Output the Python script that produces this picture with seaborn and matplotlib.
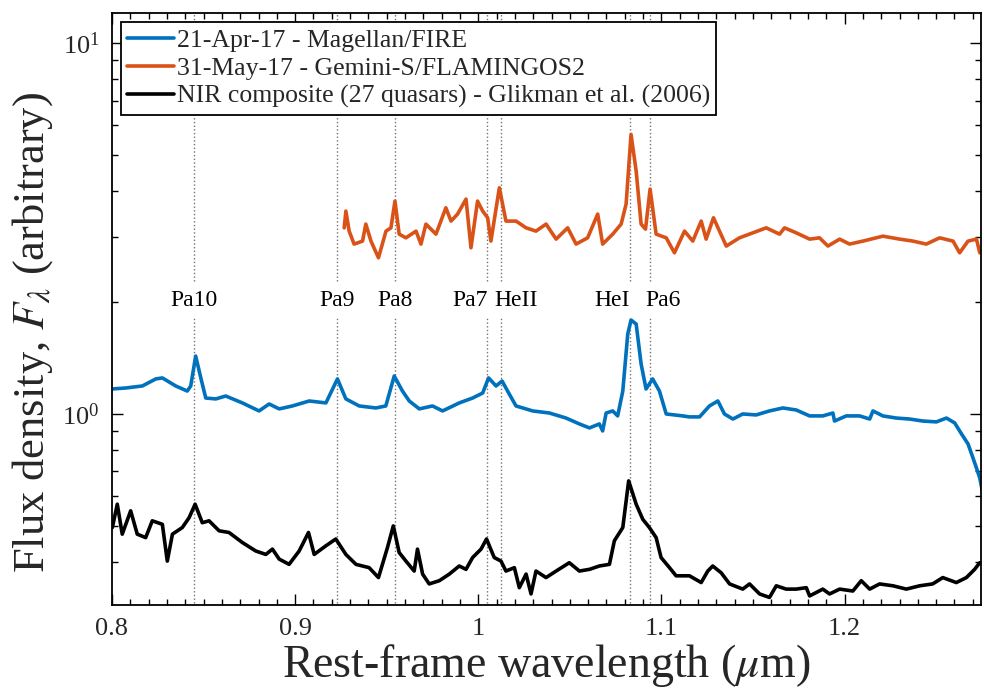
import numpy as np
import pandas as pd
import matplotlib
matplotlib.use('Agg')
import matplotlib.pyplot as plt
import seaborn as sns
from matplotlib.ticker import MultipleLocator, FuncFormatter, LogLocator, NullFormatter, LogFormatterMathtext

sns.set_theme(style='ticks')
plt.rcParams['font.family'] = ['Liberation Serif', 'DejaVu Serif']
plt.rcParams['mathtext.fontset'] = 'stix'

# ---------------- data ----------------
blue_wl = [0.8000, 0.8075, 0.8166, 0.8239, 0.8275, 0.8348, 0.8411, 0.8430, 0.8457, 0.8485,
           0.8512, 0.8567, 0.8621, 0.8712, 0.8803, 0.8858, 0.8913, 0.8985, 0.9077, 0.9168,
           0.9231, 0.9277, 0.9350, 0.9441, 0.9495, 0.9541, 0.9586, 0.9623, 0.9678, 0.9750,
           0.9805, 0.9896, 0.9969, 1.0024, 1.0056, 1.0097, 1.0130, 1.0169, 1.0206, 1.0297,
           1.0388, 1.0479, 1.0552, 1.0607, 1.0661, 1.0679, 1.0698, 1.0734, 1.0761, 1.0789,
           1.0816, 1.0834, 1.0862, 1.0889, 1.0916, 1.0952, 1.0989, 1.1026, 1.1116, 1.1153,
           1.1208, 1.1262, 1.1308, 1.1344, 1.1390, 1.1444, 1.1517, 1.1590, 1.1663, 1.1736,
           1.1809, 1.1881, 1.1936, 1.1945, 1.2009, 1.2082, 1.2137, 1.2155, 1.2209, 1.2282,
           1.2355, 1.2428, 1.2501, 1.2556, 1.2601, 1.2638, 1.2674, 1.2701, 1.2720, 1.2738,
           1.2752]
blue_flux = [1.168, 1.175, 1.190, 1.243, 1.251, 1.190, 1.153, 1.190, 1.433, 1.251,
             1.104, 1.098, 1.118, 1.071, 1.019, 1.064, 1.032, 1.051, 1.084, 1.071,
             1.243, 1.098, 1.051, 1.038, 1.051, 1.266, 1.153, 1.084, 1.032, 1.051,
             1.019, 1.071, 1.104, 1.139, 1.251, 1.190, 1.227, 1.132, 1.051, 1.019,
             1.006, 0.975, 0.940, 0.917, 0.940, 0.900, 1.006, 1.019, 0.988, 1.153,
             1.643, 1.792, 1.748, 1.364, 1.168, 1.243, 1.153, 1.000, 0.988, 0.982,
             0.982, 1.051, 1.084, 1.000, 0.969, 1.000, 0.994, 1.019, 1.038, 1.025,
             0.988, 0.988, 1.006, 0.957, 0.988, 0.988, 0.969, 1.019, 0.988, 0.975,
             0.969, 0.957, 0.952, 0.975, 0.946, 0.884, 0.830, 0.761, 0.715, 0.672,
             0.620]

orange_wl = [0.9268, 0.9277, 0.9295, 0.9322, 0.9368, 0.9386, 0.9414, 0.9455, 0.9496, 0.9523,
             0.9545, 0.9568, 0.9605, 0.9660, 0.9687, 0.9714, 0.9769, 0.9823, 0.9851, 0.9887,
             0.9933, 0.9960, 0.9996, 1.0024, 1.0051, 1.0069, 1.0115, 1.0151, 1.0206, 1.0261,
             1.0315, 1.0370, 1.0425, 1.0488, 1.0534, 1.0597, 1.0652, 1.0679, 1.0734, 1.0780,
             1.0807, 1.0834, 1.0862, 1.0889, 1.0913, 1.0938, 1.0971, 1.1026, 1.1071, 1.1126,
             1.1171, 1.1217, 1.1244, 1.1284, 1.1317, 1.1354, 1.1426, 1.1499, 1.1572, 1.1645,
             1.1672, 1.1736, 1.1809, 1.1863, 1.1909, 1.1973, 1.2027, 1.2100, 1.2209, 1.2301,
             1.2373, 1.2446, 1.2519, 1.2592, 1.2628, 1.2674, 1.2720, 1.2738]
orange_flux = [3.177, 3.526, 3.113, 2.872, 2.926, 3.252, 2.926, 2.638, 3.113, 3.177,
               3.751, 3.055, 2.986, 3.113, 2.872, 3.252, 3.055, 3.598, 3.313, 3.461,
               3.798, 2.807, 3.751, 3.526, 3.382, 2.926, 4.074, 3.313, 3.313, 3.177,
               3.113, 3.252, 2.962, 3.177, 2.872, 2.986, 3.461, 2.872, 3.055, 3.252,
               3.681, 5.675, 4.519, 3.252, 3.152, 4.042, 3.055, 2.986, 2.721, 3.113,
               2.926, 3.313, 2.962, 3.382, 3.113, 2.837, 2.986, 3.080, 3.177, 3.055,
               3.177, 3.080, 2.962, 2.986, 2.837, 2.962, 2.872, 2.926, 3.017, 2.962,
               2.926, 2.872, 2.986, 2.926, 2.721, 2.926, 2.962, 2.721]

black_wl = [0.8002, 0.8029, 0.8056, 0.8102, 0.8138, 0.8184, 0.8220, 0.8275, 0.8302, 0.8330,
            0.8384, 0.8421, 0.8454, 0.8493, 0.8530, 0.8585, 0.8639, 0.8712, 0.8785, 0.8840,
            0.8876, 0.8913, 0.8967, 0.9022, 0.9073, 0.9104, 0.9168, 0.9222, 0.9277, 0.9332,
            0.9404, 0.9455, 0.9504, 0.9536, 0.9568, 0.9605, 0.9650, 0.9668, 0.9696, 0.9732,
            0.9787, 0.9842, 0.9896, 0.9933, 0.9969, 1.0015, 1.0045, 1.0087, 1.0124, 1.0151,
            1.0197, 1.0224, 1.0261, 1.0288, 1.0315, 1.0370, 1.0425, 1.0497, 1.0552, 1.0607,
            1.0661, 1.0716, 1.0743, 1.0789, 1.0821, 1.0862, 1.0898, 1.0934, 1.0971, 1.0998,
            1.1044, 1.1080, 1.1135, 1.1153, 1.1217, 1.1253, 1.1280, 1.1326, 1.1372, 1.1444,
            1.1481, 1.1536, 1.1590, 1.1627, 1.1681, 1.1736, 1.1791, 1.1809, 1.1881, 1.1918,
            1.1973, 1.2045, 1.2091, 1.2137, 1.2191, 1.2264, 1.2337, 1.2410, 1.2481, 1.2536,
            1.2610, 1.2665, 1.2710, 1.2738]
black_flux = [0.494, 0.571, 0.474, 0.548, 0.474, 0.464, 0.515, 0.504, 0.401, 0.474,
              0.494, 0.525, 0.571, 0.509, 0.515, 0.484, 0.479, 0.450, 0.427, 0.418,
              0.432, 0.406, 0.393, 0.427, 0.479, 0.418, 0.441, 0.460, 0.418, 0.393,
              0.385, 0.362, 0.436, 0.499, 0.423, 0.401, 0.377, 0.432, 0.370, 0.348,
              0.355, 0.370, 0.389, 0.381, 0.410, 0.432, 0.460, 0.410, 0.401, 0.377,
              0.385, 0.340, 0.370, 0.327, 0.377, 0.362, 0.377, 0.397, 0.377, 0.381,
              0.389, 0.393, 0.455, 0.494, 0.660, 0.571, 0.520, 0.494, 0.464, 0.410,
              0.385, 0.366, 0.366, 0.366, 0.351, 0.377, 0.389, 0.373, 0.348, 0.337,
              0.348, 0.327, 0.320, 0.344, 0.337, 0.337, 0.340, 0.323, 0.337, 0.327,
              0.337, 0.333, 0.355, 0.337, 0.348, 0.344, 0.337, 0.344, 0.348, 0.362,
              0.351, 0.362, 0.381, 0.397]

line_labels = ['Pa10', 'Pa9', 'Pa8', 'Pa7', 'HeII', 'HeI', 'Pa6']
line_wl = [0.8446, 0.9229, 0.9546, 1.0049, 1.0124, 1.0830, 1.0938]

series_labels = ['21-Apr-17 - Magellan/FIRE',
                 '31-May-17 - Gemini-S/FLAMINGOS2',
                 'NIR composite (27 quasars) - Glikman et al. (2006)']

# ---------------- styling ----------------
label_dx = [0.0, 0.0, 0.0, -0.0093, 0.0082, -0.0098, 0.0071]
colors = ['#0072BD', '#D95319', '#000000']

fig = plt.figure(figsize=(9.84, 6.94), dpi=100)
ax = fig.add_axes([0.1138, 0.128, 0.8832, 0.853])

for x in line_wl:
    ax.vlines(x, 0.2, 1.81, colors='0.45', linestyles=':', lw=1.0, zorder=1)
    ax.vlines(x, 2.28, 20, colors='0.45', linestyles=':', lw=1.0, zorder=1)
for lab, x, dx in zip(line_labels, line_wl, label_dx):
    ax.text(x + dx, 2.02, lab, ha='center', va='center', fontsize=17, color='black', zorder=3)

frames = [
    pd.DataFrame({'wl': blue_wl, 'flux': blue_flux}),
    pd.DataFrame({'wl': orange_wl, 'flux': orange_flux}),
    pd.DataFrame({'wl': black_wl, 'flux': black_flux}),
]
for df, c, lab in zip(frames, colors, series_labels):
    sns.lineplot(data=df, x='wl', y='flux', color=c, lw=2.6, label=lab,
                 estimator=None, sort=False, ax=ax, zorder=2)

ax.set_yscale('log')
ax.set_xlim(0.8, 1.2745)
ax.set_ylim(0.305, 12.05)

ax.xaxis.set_major_locator(MultipleLocator(0.1))
ax.xaxis.set_minor_locator(MultipleLocator(0.01))
ax.xaxis.set_major_formatter(FuncFormatter(lambda v, p: '%g' % round(v, 3)))
ax.yaxis.set_major_locator(LogLocator(base=10, numticks=10))
ax.yaxis.set_minor_locator(LogLocator(base=10, subs=np.arange(2, 10), numticks=20))
ax.yaxis.set_major_formatter(LogFormatterMathtext())
ax.yaxis.set_minor_formatter(NullFormatter())

ax.tick_params(which='both', direction='in', top=True, right=True, labelsize=19, width=1.0, color='black')
ax.tick_params(which='major', length=8)
ax.tick_params(which='minor', length=4)
ax.tick_params(axis='x', which='major', pad=9)
ax.tick_params(axis='y', which='major', pad=9)
for s in ax.spines.values():
    s.set_linewidth(1.3)
    s.set_color('black')

ax.set_xlabel(r'Rest-frame wavelength ($\mu$m)', fontsize=33, labelpad=2)
ax.set_ylabel(r'Flux density, $F_\lambda$ (arbitrary)', fontsize=32)
ax.yaxis.set_label_coords(-0.065, 0.46)

leg = ax.legend(loc='upper left', fontsize=18.5, frameon=True, fancybox=False, framealpha=1,
                edgecolor='black', handlelength=1.8, handletextpad=0.12, labelspacing=0.2,
                borderpad=0.25, borderaxespad=0.35)
leg.get_frame().set_linewidth(1.3)
leg.set_zorder(5)
for h in leg.get_lines():
    h.set_linewidth(2.6)

fig.savefig('out.png', dpi=100)
